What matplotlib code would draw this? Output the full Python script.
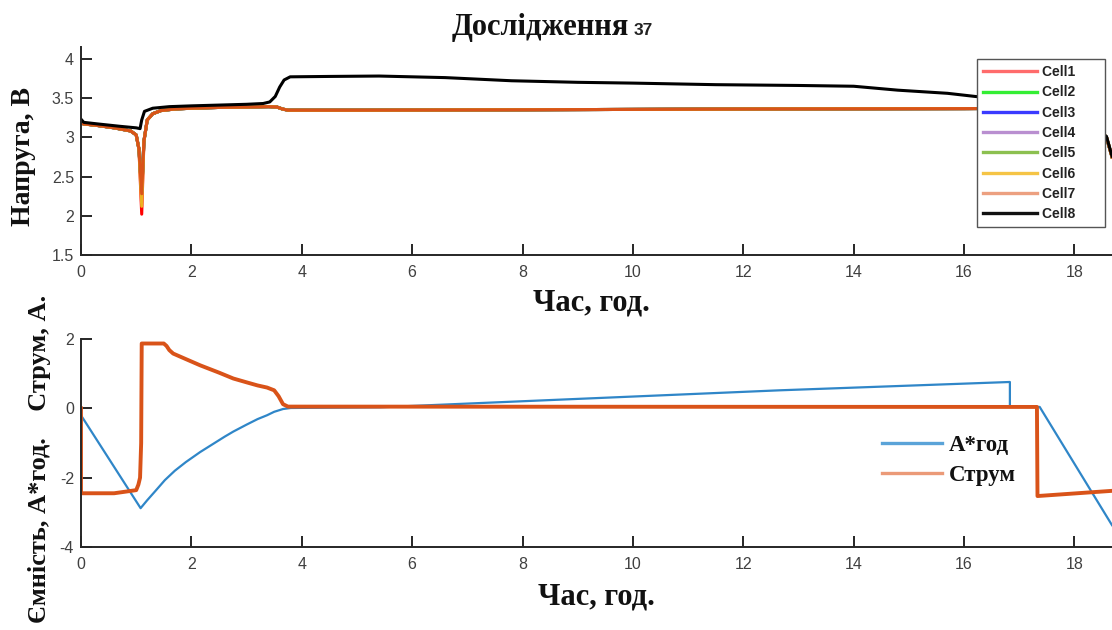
import numpy as np
import matplotlib
matplotlib.use('Agg')
from matplotlib import pyplot as plt
from matplotlib.lines import Line2D
from matplotlib.ticker import FormatStrFormatter

plt.rcParams['axes.unicode_minus'] = False

# cell voltages, cells 1..7 share one trace apart from the depth of the dip
t_cells = [0, 0.05, 0.3, 0.6, 0.9, 1.0, 1.05, 1.10, 1.14, 1.2, 1.3, 1.45, 1.7, 2.0,
           2.5, 3.0, 3.4, 3.55, 3.65, 3.75, 5.0, 8.0, 12.0, 16.0, 17.3, 17.4, 17.7,
           18.1, 18.45, 18.58, 18.68]
v_cells = [3.18, 3.17, 3.15, 3.12, 3.08, 3.03, 2.85, 2.28, 2.95, 3.22, 3.30, 3.34, 3.36,
           3.37, 3.38, 3.385, 3.39, 3.385, 3.36, 3.345, 3.345, 3.35, 3.36, 3.365, 3.37,
           3.22, 3.18, 3.15, 3.10, 3.00, 2.75]
cell_dip_min = [2.02, 2.30, 2.30, 2.30, 2.30, 2.12, 2.28]

t_cell8 = [0, 0.05, 0.3, 0.7, 1.0, 1.07, 1.10, 1.15, 1.3, 1.6, 2.0, 2.5, 3.0, 3.3, 3.42,
           3.52, 3.6, 3.68, 3.79, 4.5, 5.4, 6.6, 7.8, 9.0, 10.0, 11.5, 13.0, 14.0, 14.8,
           15.7, 16.2, 16.8, 17.3, 17.4, 17.8, 18.3, 18.58, 18.68]
v_cell8 = [3.23, 3.19, 3.17, 3.14, 3.12, 3.11, 3.22, 3.33, 3.37, 3.39, 3.40, 3.41, 3.42,
           3.43, 3.45, 3.52, 3.64, 3.73, 3.77, 3.775, 3.78, 3.76, 3.72, 3.70, 3.69, 3.67,
           3.66, 3.65, 3.60, 3.56, 3.52, 3.48, 3.46, 3.25, 3.18, 3.12, 3.01, 2.76]

cell_names = ['Cell1', 'Cell2', 'Cell3', 'Cell4', 'Cell5', 'Cell6', 'Cell7', 'Cell8']
cell_colors = ['#ff0000', '#00ff00', '#0000ff', '#7e2f8e', '#77ac30', '#edb120', '#d95319', '#000000']
legend_colors = ['#ff6b6b', '#33ee33', '#3a3aff', '#b98fd0', '#8cc050', '#f5c445', '#eca080', '#111111']

# current and capacity
t_current = [0, 0, 0.6, 1.0, 1.04, 1.07, 1.09, 1.10, 1.5, 1.55, 1.6, 1.67, 1.9, 2.16,
             2.5, 2.76, 3.0, 3.2, 3.37, 3.5, 3.58, 3.66, 3.75, 17.32, 17.33, 18.68]
current = [0, -2.45, -2.45, -2.36, -2.2, -2.0, -1.0, 1.87, 1.87, 1.80, 1.68, 1.58, 1.42,
           1.24, 1.03, 0.86, 0.75, 0.66, 0.60, 0.52, 0.35, 0.12, 0.05, 0.04, -2.53, -2.38]

t_capacity = [0, 1.08, 1.2, 1.35, 1.52, 1.7, 1.9, 2.16, 2.4, 2.6, 2.76, 3.0, 3.2, 3.37,
              3.5, 3.66, 3.8, 5.42, 12.66, 16.83, 16.83, 17.37, 18.68]
capacity = [-0.2, -2.88, -2.65, -2.38, -2.07, -1.8, -1.55, -1.26, -1.02, -0.82, -0.67,
            -0.47, -0.31, -0.2, -0.1, -0.02, 0.01, 0.03, 0.52, 0.76, 0.06, 0.04, -3.37]

x_ticks = [0, 2, 4, 6, 8, 10, 12, 14, 16, 18]

W, H = 1112, 630
fig = plt.figure(figsize=(W / 100, H / 100), dpi=100)
fig.patch.set_facecolor('white')

serif = 'Liberation Serif'
sans = 'Liberation Sans'
axis_col = '#262626'
label_col = '#111111'


def px_axes(left, top, right, bottom):
    return fig.add_axes([left / W, 1 - bottom / H, (right - left) / W, (bottom - top) / H])


def style(ax):
    for s in ['top', 'right']:
        ax.spines[s].set_visible(False)
    for s in ['left', 'bottom']:
        ax.spines[s].set_color(axis_col)
        ax.spines[s].set_linewidth(1.4)
    ax.tick_params(direction='in', length=8, width=1.4, color=axis_col,
                   labelcolor='#404040', labelsize=11.5, pad=5)
    ax.tick_params(axis='x', pad=7)
    for lab in ax.get_xticklabels() + ax.get_yticklabels():
        lab.set_family(sans)
    ax.set_xlim(0, 18.68)
    ax.set_xticks(x_ticks)
    ax.xaxis.set_major_formatter(FormatStrFormatter('%g'))
    ax.yaxis.set_major_formatter(FormatStrFormatter('%g'))


# voltage panel
ax1 = px_axes(81, 47, W, 255)
dip = int(np.argmin(v_cells))
for k in range(7):
    v = list(v_cells)
    v[dip] = cell_dip_min[k]
    ax1.plot(t_cells, v, color=cell_colors[k], lw=2.2)
ax1.plot(t_cell8, v_cell8, color=cell_colors[7], lw=2.2)
ax1.set_ylim(1.5, 4.15)
ax1.set_yticks([1.5, 2, 2.5, 3, 3.5, 4])
style(ax1)

# trailing spaces widen the box on the right
handles = [Line2D([], [], color=c, lw=2.4) for c in legend_colors]
leg = ax1.legend(handles, [n + '      ' for n in cell_names], loc='upper left',
                 bbox_to_anchor=(977 / W, 1 - 59 / H), bbox_transform=fig.transFigure,
                 borderaxespad=0, fancybox=False, framealpha=1, edgecolor='#555555',
                 handlelength=3.9, handletextpad=0.35, labelspacing=0.45, borderpad=0.45,
                 prop={'family': sans, 'weight': 'bold', 'size': 10})
leg.get_frame().set_linewidth(1.0)
for txt in leg.get_texts():
    txt.set_color('#222222')

# current / capacity panel
ax2 = px_axes(81, 339, W, 547)
ax2.plot(t_capacity, capacity, color='#2f86c8', lw=1.6)
ax2.plot(t_current, current, color='#d95319', lw=2.8)
ax2.set_ylim(-4, 2)
ax2.set_yticks([-4, -2, 0, 2])
style(ax2)

handles2 = [Line2D([], [], color='#5aa3d8', lw=2.4), Line2D([], [], color='#eb9a78', lw=2.4)]
leg2 = ax2.legend(handles2, ['А*год', 'Струм'], loc='upper left',
                  bbox_to_anchor=(882 / W, 1 - 435 / H), bbox_transform=fig.transFigure,
                  borderaxespad=0, borderpad=0, frameon=False,
                  handlelength=2.6, handletextpad=0.3, labelspacing=0.4,
                  prop={'family': serif, 'weight': 'bold', 'size': 16.5})
for txt in leg2.get_texts():
    txt.set_color(label_col)

# titles and axis labels
fig.text(629 / W, 1 - 35 / H, 'Дослідження', family=serif, weight='bold', size=22,
         ha='right', va='baseline', color=label_col)
fig.text(634 / W, 1 - 35 / H, '37', family=sans, weight='bold', size=12.5,
         ha='left', va='baseline', color='#222222')

fig.text(24 / W, 1 - 157 / H, 'Напруга, В', family=serif, weight='bold', size=20,
         rotation=90, ha='center', va='center', color=label_col)
fig.text(591 / W, 1 - 303 / H, 'Час, год.', family=serif, weight='bold', size=22,
         ha='center', va='center', color=label_col)
fig.text(596 / W, 1 - 597 / H, 'Час, год.', family=serif, weight='bold', size=22,
         ha='center', va='center', color=label_col)
fig.text(40 / W, 1 - 459 / H, 'Ємність, А*год.    Струм, А.', family=serif, weight='bold',
         size=19, rotation=90, ha='center', va='center', color=label_col)

fig.savefig('out.png', dpi=100, facecolor='white')
